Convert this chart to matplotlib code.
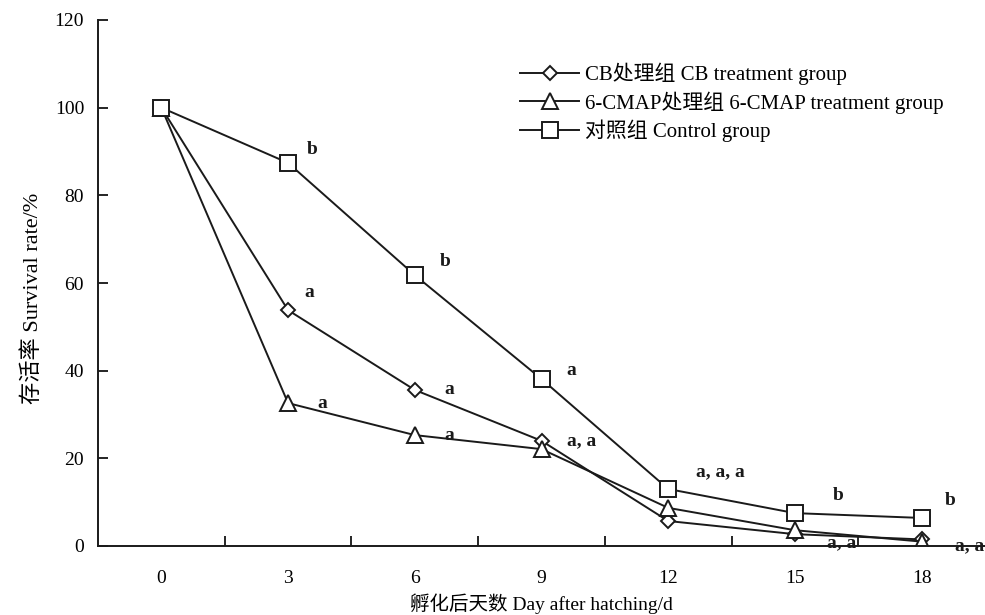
import matplotlib
matplotlib.use('Agg')
import matplotlib.pyplot as plt
from matplotlib.ticker import FixedLocator, NullFormatter

plt.rcParams['font.family'] = ['Liberation Serif', 'Noto Sans CJK SC']

days = ['0', '3', '6', '9', '12', '15', '18']
cb = [100, 53.8, 35.6, 24.0, 5.7, 2.7, 1.5]
cmap6 = [100, 32.6, 25.3, 22.1, 8.7, 3.6, 1.0]
control = [100, 87.4, 61.8, 38.1, 13.0, 7.5, 6.4]

# significance letters: (day index, y value, text)
letters = [
    (1, 87.4, 'b'), (2, 61.8, 'b'), (3, 38.1, 'a'), (4, 13.0, 'a, a, a'),
    (5, 7.5, 'b'), (6, 6.4, 'b'),
    (1, 53.8, 'a'), (2, 35.6, 'a'),
    (1, 32.6, 'a'), (2, 25.3, 'a'), (3, 24.0, 'a, a'),
    (5, 2.7, 'a, a'), (6, 1.5, 'a, a'),
]
letter_dy = [3, 3, 2, 4, 4, 4, 4, 0, 0, 0, 0, -2, -1.5]
letter_dx = [0.15, 0.2, 0.2, 0.22, 0.3, 0.18, 0.13, 0.23, 0.23, 0.23, 0.2, 0.25, 0.26]

fig = plt.figure(figsize=(9.85, 6.15), dpi=100)
ax = fig.add_axes([98 / 985, 69 / 615, 887 / 985, 526 / 615])
x = list(range(len(days)))
style = dict(color='#1a1a1a', lw=1.4, markerfacecolor='white', markeredgecolor='#1a1a1a',
             markeredgewidth=1.4)
ax.plot(x, cb, marker='D', markersize=7, label='CB处理组 CB treatment group', **style)
ax.plot(x, cmap6, marker='^', markersize=11, label='6-CMAP处理组 6-CMAP treatment group', **style)
ax.plot(x, control, marker='s', markersize=12, label='对照组 Control group', **style)

for (i, y, t), dy, dx in zip(letters, letter_dy, letter_dx):
    ax.text(i + dx, y + dy, t, fontsize=14, fontweight='bold', ha='left', va='center',
            color='#1a1a1a')

ax.set_xlim(-0.5, 6.5)
ax.set_ylim(0, 120)
ax.set_yticks(range(0, 121, 20))
ax.set_xticks(x)
ax.set_xticklabels(days)
ax.xaxis.set_minor_locator(FixedLocator([i + 0.5 for i in range(6)]))
ax.xaxis.set_minor_formatter(NullFormatter())
ax.tick_params(axis='x', which='major', length=0, pad=17, labelsize=14)
ax.tick_params(axis='x', which='minor', direction='in', length=7, width=1.2)
ax.tick_params(axis='y', direction='in', length=7, width=1.2, pad=10, labelsize=14)
for s in ['top', 'right']:
    ax.spines[s].set_visible(False)
for s in ['left', 'bottom']:
    ax.spines[s].set_linewidth(1.4)
    ax.spines[s].set_color('#1a1a1a')

ax.set_xlabel('孵化后天数 Day after hatching/d', fontsize=14, labelpad=5)
ax.set_ylabel('存活率 Survival rate/%', fontsize=16)
ax.yaxis.set_label_coords(-0.062, 0.47)

leg = ax.legend(loc='upper left', bbox_to_anchor=(0.455, 0.955), frameon=False, fontsize=15,
                handlelength=2.8, handletextpad=0.3, labelspacing=0.3)

fig.savefig('out.png', dpi=100)
